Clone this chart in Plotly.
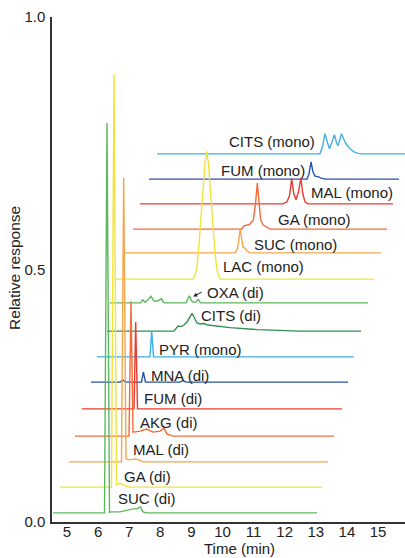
import plotly.graph_objects as go

# ---- data ----
labels = ["SUC (di)", "GA (di)", "MAL (di)", "AKG (di)", "FUM (di)", "MNA (di)",
          "PYR (mono)", "CITS (di)", "OXA (di)", "LAC (mono)", "SUC (mono)",
          "GA (mono)", "MAL (mono)", "FUM (mono)", "CITS (mono)"]

# baseline (stack offset) of each trace, relative response
baselines = [0.018, 0.069, 0.119, 0.170, 0.224, 0.277, 0.327, 0.378, 0.434,
             0.481, 0.533, 0.580, 0.630, 0.679, 0.729]
# first and last time of each trace (min)
time_start = [4.550, 4.775, 5.065, 5.258, 5.483, 5.772, 5.965, 6.287, 6.383,
              6.576, 6.833, 7.123, 7.348, 7.637, 7.894]
time_end = [13.039, 13.200, 13.393, 13.585, 13.843, 14.036, 14.229, 14.454,
            14.679, 14.872, 15.097, 15.290, 15.483, 15.675, 15.950]

# peak regions: time (min) and response above the trace baseline
suc_di_t = [6.158, 6.206, 6.287, 6.367, 6.383, 6.704, 6.865, 7.123, 7.251, 7.348, 7.380, 7.444, 7.540]
suc_di_h = [0, 0, 0.772, 0, 0.002, 0.002, 0.004, 0.008, 0.008, 0.012, 0.010, 0.002, 0]

ga_di_t = [6.431, 6.512, 6.592, 6.640, 6.688, 6.769, 6.897, 7.026]
ga_di_h = [0, 0.818, 0.004, 0.006, 0.008, 0.006, 0.002, 0]

mal_di_t = [6.753, 6.823, 6.897, 7.026, 7.187, 7.315, 7.444]
mal_di_h = [0, 0.562, 0.006, 0.004, 0.006, 0.004, 0]

akg_di_t = [6.994, 7.058, 7.123, 7.348, 7.563, 7.766, 7.991, 8.119, 8.216, 8.409]
akg_di_h = [0, 0.267, 0.008, 0.010, 0.014, 0.008, 0.010, 0.016, 0.004, 0]

fum_di_t = [7.155, 7.209, 7.267]
fum_di_h = [0, 0.172, 0]

mna_di_t = [6.704, 6.801, 6.897, 7.396, 7.454, 7.524, 8.634, 8.730, 8.827]
mna_di_h = [0, 0.004, 0, 0, 0.020, 0, 0, 0.003, 0]

pyr_mono_t = [7.669, 7.724, 7.782]
pyr_mono_h = [0, 0.051, 0]

cits_di_t = [8.441, 8.528, 8.569, 8.666, 8.762, 8.859, 8.955, 9.020, 9.084, 9.180,
             9.277, 9.405, 9.534, 9.759, 10.241, 11.110, 12.171, 12.492]
cits_di_h = [0, 0.007, 0.010, 0.009, 0.012, 0.018, 0.030, 0.035, 0.028, 0.016,
             0.014, 0.015, 0.012, 0.010, 0.007, 0.003, 0.001, 0]

oxa_di_t = [7.364, 7.434, 7.508, 7.637, 7.701, 7.766, 7.830, 7.926, 8.039, 8.103,
            8.151, 8.827, 8.933, 9.004, 9.068, 9.148, 9.222, 9.293]
oxa_di_h = [0, 0.006, 0.001, 0.008, 0.013, 0.006, 0.003, 0.004, 0.008, 0.001,
            0, 0, 0.014, 0.004, 0.001, 0.002, 0.007, 0]

lac_mono_t = [9.058, 9.116, 9.171, 9.222, 9.277, 9.332, 9.383, 9.438, 9.492,
              9.547, 9.601, 9.653, 9.708, 9.762, 9.814, 9.868, 9.926]
lac_mono_h = [0, 0.008, 0.022, 0.050, 0.093, 0.135, 0.184, 0.230, 0.253,
              0.230, 0.184, 0.135, 0.093, 0.050, 0.022, 0.008, 0]

suc_mono_t = [10.402, 10.483, 10.531, 10.573, 10.615, 10.659, 10.724, 10.788, 10.885]
suc_mono_h = [0, 0.008, 0.028, 0.048, 0.028, 0.012, 0.009, 0.004, 0]

ga_mono_t = [10.618, 10.676, 10.885, 10.991, 11.061, 11.119, 11.174, 11.228, 11.312, 11.431, 11.528]
ga_mono_h = [0, 0.006, 0.010, 0.018, 0.050, 0.091, 0.050, 0.018, 0.008, 0.003, 0]

mal_mono_t = [11.946, 12.074, 12.155, 12.225, 12.293, 12.364, 12.444, 12.518, 12.582, 12.653, 12.749]
mal_mono_h = [0, 0.004, 0.016, 0.050, 0.020, 0.008, 0.024, 0.051, 0.020, 0.004, 0]

fum_mono_t = [12.717, 12.782, 12.846, 12.910, 12.975, 13.071, 13.167, 13.328]
fum_mono_h = [0, 0.010, 0.034, 0.014, 0.006, 0.005, 0.002, 0]

cits_mono_t = [13.135, 13.216, 13.296, 13.376, 13.441, 13.521, 13.601, 13.666, 13.714,
               13.762, 13.827, 13.891, 13.971, 14.100, 14.229, 14.357, 14.486]
cits_mono_h = [0, 0.014, 0.040, 0.022, 0.010, 0.024, 0.038, 0.022, 0.016,
               0.026, 0.040, 0.030, 0.020, 0.010, 0.004, 0.001, 0]

peak_t = [suc_di_t, ga_di_t, mal_di_t, akg_di_t, fum_di_t, mna_di_t, pyr_mono_t,
          cits_di_t, oxa_di_t, lac_mono_t, suc_mono_t, ga_mono_t, mal_mono_t,
          fum_mono_t, cits_mono_t]
peak_h = [suc_di_h, ga_di_h, mal_di_h, akg_di_h, fum_di_h, mna_di_h, pyr_mono_h,
          cits_di_h, oxa_di_h, lac_mono_h, suc_mono_h, ga_mono_h, mal_mono_h,
          fum_mono_h, cits_mono_h]

# label anchor (left edge time, response)
label_t = [6.598, 6.811, 7.100, 7.325, 7.454, 7.669, 7.936, 9.277, 9.470,
           9.975, 10.991, 11.743, 12.814, 9.920, 10.187]
label_y = [0.047, 0.091, 0.1426, 0.1966, 0.245, 0.291, 0.342, 0.408, 0.4549,
           0.5055, 0.5505, 0.600, 0.652, 0.697, 0.753]

x_ticks = [5, 6, 7, 8, 9, 10, 11, 12, 13, 14, 15]
y_ticks = [0.0, 0.5, 1.0]
y_ticktext = ["0.0", "0.5", "1.0"]

# ---- styles ----
colors = ["#5cb85c", "#f2e33c", "#f7a54c", "#f26a3a", "#ea3b33", "#2a52a8",
          "#3cb0e2", "#2f8f55", "#5cb85c", "#f2e33c", "#f7a54c", "#f26a3a",
          "#ea3b33", "#2a52a8", "#45aee3"]
FONT = "Liberation Sans, Arial, Helvetica, sans-serif"
TXT = "#222222"

fig = go.Figure()
# draw upper traces first so the tall peaks of the lower traces sit on top
for i in reversed(range(len(labels))):
    xs = [time_start[i]] + peak_t[i] + [time_end[i]]
    ys = [baselines[i] + v for v in ([0] + peak_h[i] + [0])]
    fig.add_trace(go.Scatter(x=xs, y=ys, mode="lines", name=labels[i],
                             line=dict(color=colors[i], width=1.4),
                             showlegend=False, hoverinfo="skip"))

for i in range(len(labels)):
    fig.add_annotation(x=label_t[i], y=label_y[i], text=labels[i], showarrow=False,
                       xanchor="left", yanchor="middle", xref="x", yref="y",
                       font=dict(size=15, color=TXT, family=FONT), borderpad=0)

# arrow for OXA (di) label
fig.add_annotation(x=9.06, y=0.4337 + 0.013, ax=10, ay=-5, text="", showarrow=True,
                   arrowhead=2, arrowsize=0.8, arrowwidth=1, arrowcolor=TXT,
                   xref="x", yref="y", axref="pixel", ayref="pixel")

# axis titles
fig.add_annotation(x=0.53, y=-0.0515, xref="paper", yref="paper", text="Time (min)",
                   showarrow=False, xanchor="center", yanchor="middle",
                   font=dict(size=15, color=TXT, family=FONT))
fig.add_annotation(x=-0.105, y=0.503, xref="paper", yref="paper", text="Relative response",
                   showarrow=False, textangle=-90, xanchor="center", yanchor="middle",
                   font=dict(size=15.5, color=TXT, family=FONT))

fig.update_layout(
    width=405, height=558,
    margin=dict(l=52, r=0, t=17, b=36, autoexpand=False),
    paper_bgcolor="white", plot_bgcolor="white",
    font=dict(family=FONT, color=TXT, size=15),
    xaxis=dict(range=[4.518, 15.868], tickvals=x_ticks, ticks="", showgrid=False,
               zeroline=False, showline=True, linecolor="#333333", linewidth=1.5,
               ticklabelstandoff=-5, automargin=False,
               tickfont=dict(size=15, color=TXT, family=FONT)),
    yaxis=dict(range=[0, 1.0], tickvals=y_ticks, ticktext=y_ticktext, ticks="",
               showgrid=False, zeroline=False, showline=True, linecolor="#333333",
               linewidth=1.5, ticklabelstandoff=2, automargin=False,
               tickfont=dict(size=15, color=TXT, family=FONT)),
)

fig.write_html("out.html", config={"displayModeBar": False},
               post_script="document.body.style.margin='0';document.body.style.overflow='hidden';")
